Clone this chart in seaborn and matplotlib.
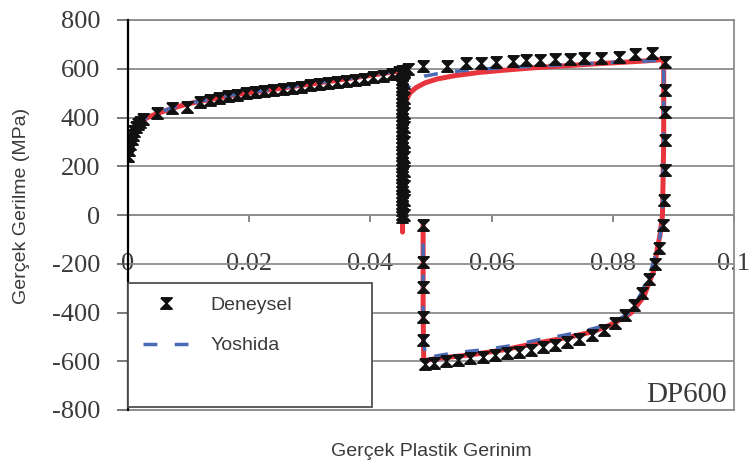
import matplotlib
matplotlib.use("Agg")
import matplotlib.pyplot as plt
import seaborn as sns
import pandas as pd
from matplotlib.lines import Line2D
from matplotlib.patches import Rectangle

# ---------------- data ----------------
x_ticks = [0, 0.02, 0.04, 0.06, 0.08, 0.1]
x_tick_labels = ["0", "0.02", "0.04", "0.06", "0.08", "0.1"]
y_ticks = [-800, -600, -400, -200, 0, 200, 400, 600, 800]
y_tick_labels = ["-800", "-600", "-400", "-200", "0", "200", "400", "600", "800"]

# Deneysel (experimental) markers
exp_strain = [
    0, 0.0002, 0.0004, 0.0006, 0.0008, 0.0010, 0.0013, 0.0016, 0.0020, 0.0025,
    0.0048, 0.0073, 0.0097, 0.0119, 0.0135, 0.0150, 0.0165, 0.0180, 0.0195, 0.0210,
    0.0225, 0.0240, 0.0255, 0.0270, 0.0285, 0.0300, 0.0315, 0.0330, 0.0345, 0.0360,
    0.0375, 0.0390, 0.0405, 0.0420, 0.0435, 0.0448,
    # unloading column
    0.0452, 0.0452, 0.0452, 0.0452, 0.0452, 0.0452, 0.0452, 0.0452, 0.0452, 0.0452,
    0.0452, 0.0452, 0.0452, 0.0452, 0.0452, 0.0452, 0.0452, 0.0452, 0.0452, 0.0452,
    0.0452, 0.0452, 0.0452, 0.0452, 0.0452, 0.0452, 0.0452, 0.0452, 0.0452, 0.0452,
    0.0452, 0.0452, 0.0452, 0.0452, 0.0452, 0.0452, 0.0452, 0.0452, 0.0452, 0.0452,
    0.0452,
    # reloading column
    0.0456, 0.0456, 0.0456, 0.0456, 0.0456, 0.0456, 0.0456, 0.0456, 0.0456, 0.0456, 0.0456,
    # upper branch
    0.0462, 0.0487, 0.0527, 0.0557, 0.0583, 0.0607, 0.0635, 0.0656, 0.0680, 0.0704,
    0.0730, 0.0752, 0.0780, 0.0810, 0.0836, 0.0864, 0.0886,
    # right vertical and lower branch
    0.0886, 0.0886, 0.0886, 0.0886, 0.0885, 0.0883, 0.0877, 0.0869, 0.0859, 0.0848,
    0.0835, 0.0820, 0.0803, 0.0785, 0.0765, 0.0745, 0.0725, 0.0705, 0.0685, 0.0665,
    0.0645, 0.0625, 0.0605, 0.0585, 0.0565, 0.0545, 0.0525, 0.0505, 0.0490,
    # left vertical
    0.0486, 0.0486, 0.0486, 0.0486, 0.0486,
]
exp_stress = [
    241, 265, 290, 312, 330, 345, 360, 372, 383, 392,
    418, 439, 445, 463, 472, 480, 487, 494, 500, 505,
    509, 513, 517, 522, 527, 532, 537, 541, 545, 549,
    554, 559, 565, 571, 578, 585,
    590, 575, 560, 545, 530, 515, 500, 485, 470, 455,
    440, 425, 410, 395, 380, 365, 350, 335, 320, 305,
    290, 275, 260, 245, 230, 215, 200, 185, 170, 155,
    140, 125, 110, 95, 80, 65, 50, 35, 20, 5,
    -10,
    0, 60, 120, 180, 240, 300, 360, 420, 480, 540, 590,
    600, 610, 610, 622, 624, 627, 633, 634, 636, 640,
    641, 644, 645, 648, 662, 663, 627,
    512, 422, 307, 185, 61, -41, -135, -200, -262, -318,
    -370, -410, -443, -470, -492, -508, -522, -533, -543, -552,
    -560, -567, -574, -581, -588, -595, -601, -607, -612,
    -512, -418, -295, -192, -41,
]

# red model curve (not in legend)
red_strain = [
    0, 0.0003, 0.0007, 0.0012, 0.0018, 0.0025, 0.0035, 0.005, 0.007, 0.009,
    0.011, 0.0135, 0.016, 0.019, 0.022, 0.025, 0.028, 0.031, 0.034, 0.037,
    0.040, 0.043, 0.0453, 0.0453, 0.0453, 0.0454, 0.0456, 0.0459, 0.0465, 0.0475,
    0.049, 0.051, 0.054, 0.058, 0.062, 0.067, 0.072, 0.077, 0.082, 0.0865,
    0.0884, 0.0884, 0.0882, 0.0878, 0.0874, 0.0868, 0.0851, 0.083, 0.0805, 0.0785,
    0.076, 0.073, 0.0676, 0.062, 0.0565, 0.0511, 0.0495, 0.0488, 0.0487, 0.0487,
]
red_stress = [
    240, 290, 330, 358, 376, 390, 403, 418, 435, 450,
    462, 474, 486, 498, 509, 519, 530, 540, 551, 562,
    573, 584, 593, 300, -70, 200, 420, 470, 500, 522,
    542, 558, 572, 585, 594, 604, 612, 620, 627, 634,
    638, 300, 0, -80, -131, -225, -336, -402, -440, -463,
    -483, -500, -525, -553, -574, -588, -595, -598, -400, -40,
]

# Yoshida model
yos_strain = [
    0, 0.0003, 0.0007, 0.0012, 0.0018, 0.0025, 0.0035, 0.005, 0.007, 0.009,
    0.011, 0.0135, 0.016, 0.019, 0.022, 0.025, 0.028, 0.031, 0.034, 0.037,
    0.040, 0.043, 0.0453, 0.0453, 0.0453, 0.0454, 0.0456, 0.046, 0.047, 0.049,
    0.052, 0.056, 0.060, 0.065, 0.070, 0.075, 0.080, 0.085, 0.0884, 0.0884,
    0.0882, 0.0878, 0.0872, 0.0862, 0.0848, 0.083, 0.081, 0.0785, 0.0755, 0.072,
    0.068, 0.064, 0.059, 0.0537, 0.0505, 0.049, 0.0487, 0.0487,
]
yos_stress = [
    245, 295, 333, 360, 378, 392, 405, 420, 437, 451,
    463, 475, 487, 499, 510, 520, 531, 541, 552, 563,
    574, 585, 594, 300, -55, 200, 470, 515, 548, 570,
    584, 594, 601, 608, 614, 620, 626, 631, 636, 300,
    0, -85, -150, -235, -315, -398, -428, -455, -474, -493,
    -510, -533, -552, -566, -580, -590, -400, -45,
]

# ---------------- style ----------------
sns.set_theme(style="white")
plt.rcParams["font.family"] = ["Liberation Sans", "DejaVu Sans"]
SERIF = ["Liberation Serif", "DejaVu Serif"]
TXT = "#3a3a3a"
GRID = "#8c8c8c"
RED = "#e8343c"
BLUE = "#4a6bb4"
HOURGLASS = [(-1, 1), (1, 1), (-1, -1), (1, -1), (-1, 1)]

fig = plt.figure(figsize=(7.52, 4.66), dpi=100)
ax = fig.add_axes([128 / 752, 1 - 410 / 466, (734 - 128) / 752, 390 / 466])

df_red = pd.DataFrame({"x": red_strain, "y": red_stress})
df_yos = pd.DataFrame({"x": yos_strain, "y": yos_stress})
df_exp = pd.DataFrame({"x": exp_strain, "y": exp_stress})

sns.lineplot(data=df_red, x="x", y="y", sort=False, estimator=None, color=RED,
             lw=3.6, ax=ax, zorder=3, legend=False)
sns.lineplot(data=df_yos, x="x", y="y", sort=False, estimator=None, color=BLUE,
             lw=2.5, ax=ax, zorder=4, legend=False)
ax.lines[-1].set_linestyle((0, (4, 5)))
sns.lineplot(data=df_exp, x="x", y="y", sort=False, estimator=None, color="black",
             linestyle="", marker=HOURGLASS, markersize=8, mew=1.3,
             markeredgecolor="#111111", markerfacecolor="#111111", ax=ax, zorder=5,
             legend=False)

ax.set_xlim(0, 0.1)
ax.set_ylim(-800, 800)
ax.set_xlabel("")
ax.set_ylabel("")

# y axis
ax.set_yticks(y_ticks, labels=y_tick_labels)
ax.tick_params(axis="y", left=True, direction="out", length=8, width=1.1,
               color="#555555", pad=12, labelsize=19, labelcolor=TXT)
for lab in ax.get_yticklabels():
    lab.set_fontfamily(SERIF)
ax.yaxis.grid(True, color=GRID, lw=1.3)
ax.xaxis.grid(False)
ax.set_xticks([])

for side in ["top", "right", "bottom"]:
    ax.spines[side].set_color(GRID)
    ax.spines[side].set_linewidth(1.3)
ax.spines["left"].set_color("black")
ax.spines["left"].set_linewidth(1.6)
ax.spines["left"].set_zorder(6)

# x axis crossing at y = 0
sec = ax.secondary_xaxis(0.5)
sec.set_alignment("bottom")
sec.set_xticks(x_ticks, labels=x_tick_labels)
sec.tick_params(axis="x", direction="out", length=5, width=1.1, color="#666666",
                pad=22, labelsize=19, labelcolor=TXT)
for lab in sec.get_xticklabels():
    lab.set_fontfamily(SERIF)
sec.spines["bottom"].set_color(GRID)
sec.spines["bottom"].set_linewidth(1.3)

# legend box
ax.add_patch(Rectangle((0, 3 / 390), 244 / 606, 124 / 390, transform=ax.transAxes,
                       facecolor="white", edgecolor="#505050", lw=1.3, zorder=7,
                       clip_on=False))
handles = [
    Line2D([], [], color="#111111", linestyle="", marker=HOURGLASS, markersize=8,
           mew=1.3),
    Line2D([], [], color=BLUE, lw=2.5, linestyle=(0, (4, 5))),
]
leg = ax.legend(handles, ["Deneysel", "Yoshida"], loc="upper left",
                bbox_to_anchor=((143 - 128) / 606, (410 - 296) / 390),
                borderaxespad=0, borderpad=0, frameon=False, fontsize=14,
                handlelength=2.32, handletextpad=1.13, labelspacing=1.19,
                labelcolor=TXT)
leg.set_zorder(8)

# texts
fig.text(22 / 752, 1 - 206 / 466, "Gerçek Gerilme (MPa)", rotation=90,
         ha="center", va="center", fontsize=14, color=TXT)
fig.text(431 / 752, 1 - 451 / 466, "Gerçek Plastik Gerinim", ha="center",
         va="center", fontsize=14, color=TXT)
fig.text(727 / 752, 1 - 402 / 466, "DP600", ha="right", va="baseline",
         fontsize=21, color=TXT, family=SERIF)

fig.savefig("out.png", dpi=100)
